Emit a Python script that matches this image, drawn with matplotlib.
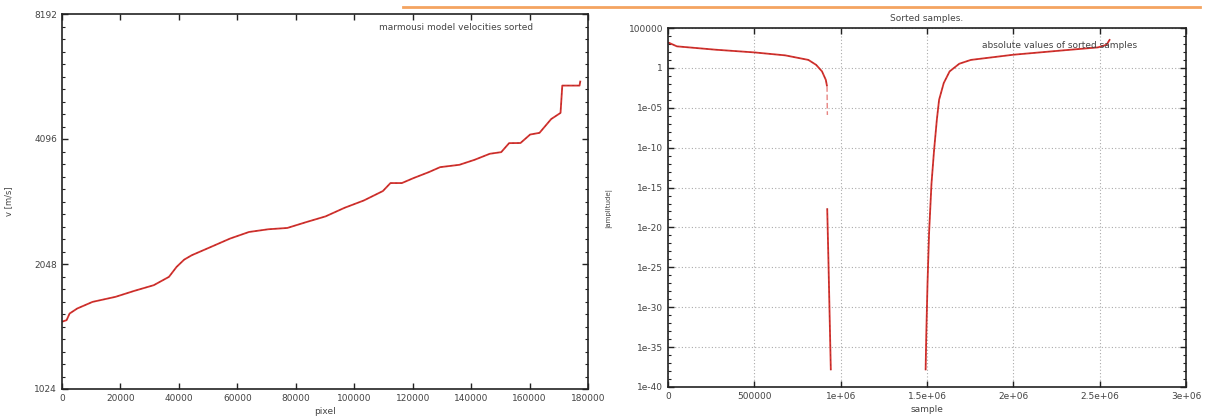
import numpy as np
import matplotlib
matplotlib.use("Agg")
import matplotlib.pyplot as plt
from matplotlib.ticker import FixedLocator, NullFormatter, LogLocator
from matplotlib.lines import Line2D

# ---------------- data ----------------
# left: sorted marmousi velocities
pixel = [0, 1570, 2600, 5200, 10460, 18300, 24800, 31400, 36600, 39200, 41800,
         44400, 51000, 57500, 64000, 70600, 77100, 83700, 90200, 96700, 103300,
         109800, 112400, 116300, 120300, 125500, 129400, 136000, 141200, 146400,
         150300, 153000, 156900, 160200, 163400, 167400, 170600, 171200, 177100, 177400]
velocity = [1487, 1500, 1556, 1600, 1660, 1707, 1765, 1821, 1907, 2015, 2098,
            2150, 2252, 2358, 2446, 2483, 2501, 2585, 2667, 2797, 2913,
            3069, 3208, 3208, 3298, 3408, 3504, 3550, 3650, 3774,
            3808, 4003, 4006, 4199, 4238, 4575, 4734, 5508, 5508, 5660]

# right: absolute values of sorted samples (log10 of amplitude)
neg_sample = [0, 51500, 275600, 500000, 679000, 813000, 858000, 892000, 914000, 921000]
neg_log_amp = [3.2, 2.7, 2.28, 1.94, 1.57, 1.0, 0.38, -0.44, -1.5, -2.3]
neg_tail_sample = [921000, 922000, 923000]
neg_tail_log_amp = [-2.3, -4.4, -5.9]
zero_sample = [922000, 925000, 930000, 936000, 943000]
zero_log_amp = [-17.6, -20.3, -25.0, -31.0, -37.9]
pos_sample = [1492000, 1496000, 1503000, 1512000, 1526000, 1541000, 1557000, 1570000,
              1597000, 1631000, 1687000, 1754000, 2000000, 2290000, 2490000, 2540000, 2560000]
pos_log_amp = [-37.9, -33.3, -27.0, -20.7, -14.5, -10.3, -6.5, -4.0,
               -1.9, -0.44, 0.52, 1.0, 1.65, 2.2, 2.57, 2.9, 3.6]

left_yticks = [1024, 2048, 4096, 8192]
left_xticks = list(range(0, 180001, 20000))
right_xticks = [0, 500000, 1000000, 1500000, 2000000, 2500000, 3000000]
right_xticklabels = ["0", "500000", "1e+06", "1.5e+06", "2e+06", "2.5e+06", "3e+06"]
right_yticks_exp = [5, 0, -5, -10, -15, -20, -25, -30, -35, -40]
right_yticklabels = ["100000", "1", "1e-05", "1e-10", "1e-15", "1e-20",
                     "1e-25", "1e-30", "1e-35", "1e-40"]

# ---------------- style ----------------
plt.rcParams['font.family'] = ['DejaVu Sans']
TXT = '#444444'
RED = '#d8322e'
FS = 6.5

fig = plt.figure(figsize=(12.06, 4.18), dpi=100)

def style(ax):
    for s in ax.spines.values():
        s.set_linewidth(1.2)
        s.set_color('#222222')
    ax.tick_params(which='both', direction='in', top=True, right=True,
                   labelsize=FS, labelcolor=TXT, color='#222222')
    ax.tick_params(which='major', length=4, width=1)
    ax.tick_params(which='minor', length=2, width=0.8)

def draw(ax, x, y):
    ax.plot(x, y, color=RED, lw=1.3, solid_capstyle='butt')
    ax.plot(x, y, color='#7a2a2a', lw=0.5, ls=(0, (3, 4)), alpha=0.6)

# ---------------- left ----------------
ax1 = fig.add_axes([62/1206, 29/418, (588-62)/1206, (389-14)/418])
style(ax1)
ax1.set_yscale('log', base=2)
draw(ax1, pixel, velocity)
ax1.set_xlim(0, 180000)
ax1.set_ylim(1024, 8192)
ax1.set_xticks(left_xticks)
ax1.set_xticklabels([str(t) for t in left_xticks])
ax1.yaxis.set_major_locator(FixedLocator(left_yticks))
ax1.set_yticklabels([str(t) for t in left_yticks])
ax1.yaxis.set_minor_locator(LogLocator(base=2, subs=2 ** (np.arange(1, 10) / 10)))
ax1.yaxis.set_minor_formatter(NullFormatter())
ax1.set_xlabel('pixel', fontsize=FS, color=TXT, labelpad=3)
ax1.set_ylabel('v [m/s]', fontsize=FS - 0.5, color=TXT, labelpad=15)
ax1.text(0.895, 0.975, 'marmousi model velocities sorted', transform=ax1.transAxes,
         ha='right', va='top', fontsize=FS, color=TXT)

# ---------------- right ----------------
ax2 = fig.add_axes([668/1206, 31/418, (1186-668)/1206, (387-28)/418])
style(ax2)
ax2.set_yscale('log')
for xs, ys in [(neg_sample, neg_log_amp), (zero_sample, zero_log_amp),
               (pos_sample, pos_log_amp)]:
    draw(ax2, xs, 10.0 ** np.array(ys))
ax2.plot(neg_tail_sample, 10.0 ** np.array(neg_tail_log_amp), color=RED, lw=1.0,
         ls=(0, (4, 2)), alpha=0.6)
ax2.set_xlim(0, 3000000)
ax2.set_ylim(1e-40, 1e5)
ax2.set_xticks(right_xticks)
ax2.set_xticklabels(right_xticklabels)
ax2.yaxis.set_major_locator(FixedLocator([10.0 ** e for e in right_yticks_exp]))
ax2.set_yticklabels(right_yticklabels)
ax2.yaxis.set_minor_locator(FixedLocator([10.0 ** e for e in range(-40, 6)]))
ax2.yaxis.set_minor_formatter(NullFormatter())
ax2.grid(True, which='major', color='#aaaaaa', ls=(0, (1, 2)), lw=0.8)
ax2.set_xlabel('sample', fontsize=FS, color=TXT, labelpad=3)
ax2.set_ylabel('|amplitude|', fontsize=FS - 1.5, color=TXT, labelpad=12)
ax2.set_title('Sorted samples.', fontsize=FS, color=TXT, pad=5)
ax2.text(0.905, 0.965, 'absolute values of sorted samples', transform=ax2.transAxes,
         ha='right', va='top', fontsize=FS, color=TXT)

# orange rule at the top
fig.add_artist(Line2D([403/1206, 1200/1206], [1 - 7/418, 1 - 7/418],
                      transform=fig.transFigure, color='#f4a460', lw=2))

fig.savefig('out.png', dpi=100)
